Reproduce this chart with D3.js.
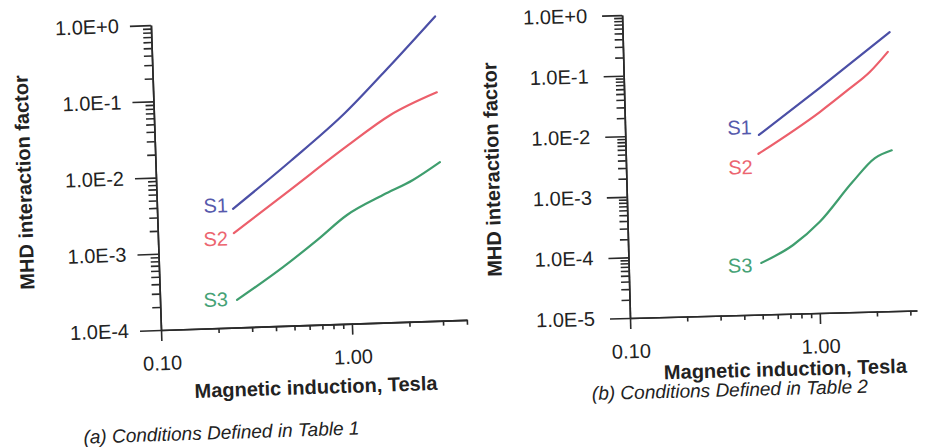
<!DOCTYPE html>
<html>
<head>
<meta charset="utf-8">
<script src="https://cdn.jsdelivr.net/npm/d3@7"></script>
<style>
  body { margin: 0; background: #fff; }
  svg { display: block; font-family: "Liberation Sans", Arial, sans-serif; }
</style>
</head>
<body>
<svg id="chart" width="928" height="447"></svg>
<script>
// ---- data ----
const xMajor = [0.1, 1];
const xMajorLabels = ["0.10", "1.00"];

const yMajorA = [1e-4, 1e-3, 1e-2, 1e-1, 1];
const yLabelsA = ["1.0E-4", "1.0E-3", "1.0E-2", "1.0E-1", "1.0E+0"];
const yMajorB = [1e-5, 1e-4, 1e-3, 1e-2, 1e-1, 1];
const yLabelsB = ["1.0E-5", "1.0E-4", "1.0E-3", "1.0E-2", "1.0E-1", "1.0E+0"];

const seriesNames = ["S1", "S2", "S3"];

// (a) Conditions Defined in Table 1
const aS1B = [0.25, 0.51, 1.0, 1.75, 3.08];
const aS1F = [3.6e-3, 1.44e-2, 5.8e-2, 2.3e-1, 0.98];
const aS2B = [0.25, 0.50, 1.01, 1.72, 3.05];
const aS2F = [1.73e-3, 6.0e-3, 2.13e-2, 5.2e-2, 9.9e-2];
const aS3B = [0.253, 0.446, 0.68, 0.985, 1.53, 2.21, 3.08];
const aS3F = [2.3e-4, 5.9e-4, 1.29e-3, 2.67e-3, 4.7e-3, 7.2e-3, 1.2e-2];

// (b) Conditions Defined in Table 2
const bS1B = [0.506, 1.07, 2.55];
const bS1F = [9.2e-3, 5.15e-2, 0.40];
const bS2B = [0.50, 1.066, 1.51, 1.98, 2.48];
const bS2F = [4.5e-3, 2.07e-2, 4.65e-2, 9.0e-2, 0.19];
const bS3B = [0.50, 0.74, 1.03, 1.55, 2.05, 2.52];
const bS3F = [7.1e-5, 1.36e-4, 3.2e-4, 1.4e-3, 3.4e-3, 4.5e-3];

const zip = (bs, fs) => bs.map((b, i) => ({ b, f: fs[i] }));

const lineColors = ["#4b4fa6", "#ec5f6b", "#3f9e6e"];
const labelColors = ["#5659ac", "#ec6570", "#45a276"];
const ink = "#222";

const svg = d3.select("#chart");

function drawPanel(cfg) {
    // the scanned panels sit slightly rotated, so each one is drawn in a rotated frame
    const g = svg.append("g")
        .attr("transform", `translate(${cfg.ox},${cfg.oy}) rotate(${cfg.angle})`);

    const x = d3.scaleLog().domain(cfg.xDomain).range([0, cfg.xLen]);
    const y = d3.scaleLog().domain(cfg.yDomain).range([0, -cfg.yLen]);

    const isMajor = (v, majors) => majors.some(m => Math.abs(v - m) / m < 1e-9);

    // ---- y axis ----
    const yMinor = y.ticks().filter(v => !isMajor(v, cfg.yMajor));
    g.append("g").attr("class", "axis")
        .call(d3.axisLeft(y).tickValues(yMinor).tickSize(8).tickSizeOuter(0).tickFormat(""));
    g.append("g").attr("class", "axis")
        .call(d3.axisLeft(y).tickValues(cfg.yMajor).tickSize(cfg.yTick).tickSizeOuter(0)
            .tickPadding(cfg.yPad).tickFormat((d, i) => cfg.yLabels[i]));

    // ---- x axis ----
    const xMinor = x.ticks().filter(v => !isMajor(v, xMajor));
    g.append("g").attr("class", "axis")
        .call(d3.axisBottom(x).tickValues(xMinor).tickSize(5).tickSizeOuter(0).tickFormat(""));
    g.append("g").attr("class", "axis")
        .call(d3.axisBottom(x).tickValues(xMajor).tickSize(11).tickSizeOuter(0)
            .tickPadding(15).tickFormat((d, i) => xMajorLabels[i]));

    g.selectAll(".axis").attr("font-family", null).attr("font-size", null);
    g.selectAll(".axis path, .axis line").attr("stroke", "#2a2a2a").attr("stroke-width", 1.6);
    g.selectAll(".axis text").attr("fill", ink).style("font-size", "20px");

    // ---- curves ----
    const line = d3.line()
        .x(d => x(d.b))
        .y(d => y(d.f))
        .curve(d3.curveMonotoneX);

    cfg.series.forEach((s, i) => {
        g.append("path")
            .datum(s)
            .attr("fill", "none")
            .attr("stroke", lineColors[i])
            .attr("stroke-width", 2.2)
            .attr("stroke-linecap", "round")
            .attr("d", line);

        g.append("text")
            .attr("x", x(s[0].b) + cfg.labelOff[i][0])
            .attr("y", y(s[0].f) + cfg.labelOff[i][1])
            .attr("dy", "0.35em")
            .attr("text-anchor", "end")
            .attr("fill", labelColors[i])
            .style("font-size", "20px")
            .text(seriesNames[i]);
    });

    // ---- axis titles ----
    g.append("text")
        .attr("x", cfg.xTitle[0])
        .attr("y", cfg.xTitle[1])
        .attr("text-anchor", "middle")
        .attr("fill", ink)
        .style("font-size", "20px")
        .style("font-weight", "bold")
        .text("Magnetic induction, Tesla");

    g.append("text")
        .attr("transform", `translate(${cfg.yTitle[0]},${cfg.yTitle[1]}) rotate(-90)`)
        .attr("dy", "0.35em")
        .attr("text-anchor", "middle")
        .attr("fill", ink)
        .style("font-size", "20px")
        .style("font-weight", "bold")
        .text("MHD interaction factor");

    g.append("text")
        .attr("x", cfg.caption[0])
        .attr("y", cfg.caption[1])
        .attr("text-anchor", "middle")
        .attr("fill", ink)
        .style("font-size", "19px")
        .style("font-style", "italic")
        .text(cfg.captionText);
}

drawPanel({
    ox: 161, oy: 330, angle: -1.9,
    xDomain: [0.1, 4], xLen: 306,
    yDomain: [1e-4, 1], yLen: 305,
    yMajor: yMajorA, yLabels: yLabelsA, yTick: 21, yPad: 11,
    series: [zip(aS1B, aS1F), zip(aS2B, aS2F), zip(aS3B, aS3F)],
    labelOff: [[-5, -4], [-6, 5], [-9, -1]],
    xTitle: [153, 69], yTitle: [-132, -152],
    caption: [57, 111], captionText: "(a) Conditions Defined in Table 1"
});

drawPanel({
    ox: 630, oy: 318, angle: -1.5,
    xDomain: [0.1, 3.25], xLen: 287,
    yDomain: [1e-5, 1], yLen: 303,
    yMajor: yMajorB, yLabels: yLabelsB, yTick: 20, yPad: 15,
    series: [zip(bS1B, bS1F), zip(bS2B, bS2F), zip(bS3B, bS3F)],
    labelOff: [[-7, -8], [-6, 13], [-9, 2]],
    xTitle: [154, 62], yTitle: [-134, -152],
    caption: [98, 81], captionText: "(b) Conditions Defined in Table 2"
});
</script>
</body>
</html>
